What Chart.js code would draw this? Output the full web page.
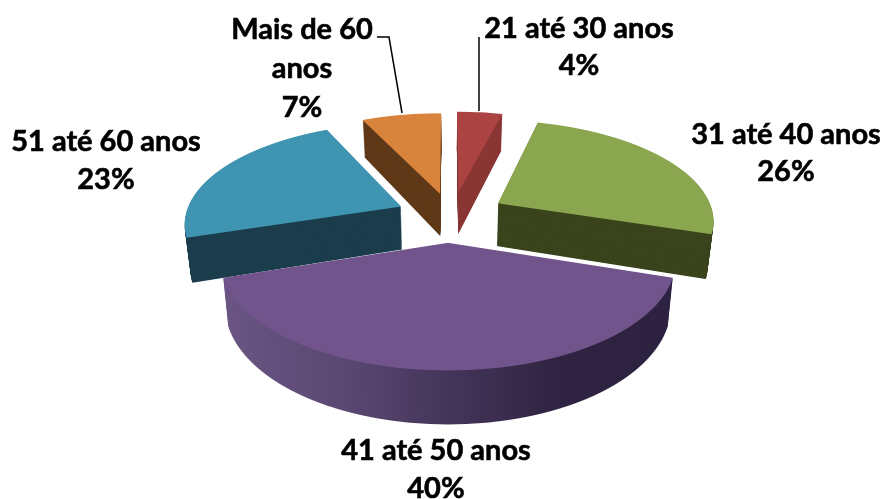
<!DOCTYPE html>
<html lang="pt">
<head>
<meta charset="utf-8">
<title>Faixa etária</title>
<script src="https://cdn.jsdelivr.net/npm/chart.js@4.4.0/dist/chart.umd.js"></script>
<style>
  html, body { margin: 0; padding: 0; background: #fff; }
  canvas { display: block; }
</style>
</head>
<body>
<canvas id="grafico" width="883" height="499"></canvas>
<script>
/* ===============================
   DADOS
=============================== */
const categorias = ["21 até 30 anos", "31 até 40 anos", "41 até 50 anos", "51 até 60 anos", "Mais de 60 anos"];
const percentuais = [4, 26, 40, 23, 7];

/* ===============================
   ESTILO
=============================== */
const coresTopo = ["#aa4341", "#8aa64f", "#71548c", "#3f95b1", "#d9843c"];
const coresLado = ["#8a3634", "#3a441c", null, "#1b3d4c", "#5f3818"];

// quanto cada fatia sai do centro (em raios do disco)
const explosaoU = [0.05, 0.236, 0, -0.22, -0.038];
const explosaoV = [-0.31, -0.19, 0.2, -0.157, -0.29];
const ordemDesenho = [4, 0, 3, 1, 2];

// camera: centro, raios, distancia da perspectiva, altura do disco e afinamento da parede
const cam = { x0: 448, y0: 222, rx: 218, ry: 101, dist: 6.53, altura: 44, afina: 0.0005 };

// rotulos: linhas de texto e centro de cada linha
const rotulos = [
  { linhas: ["21 até 30 anos", "4%"], x: 579, y: [29, 66] },
  { linhas: ["31 até 40 anos", "26%"], x: 786, y: [135, 172] },
  { linhas: ["41 até 50 anos", "40%"], x: 436, y: [451, 489] },
  { linhas: ["51 até 60 anos", "23%"], x: 106, y: [142, 180] },
  { linhas: ["Mais de 60", "anos", "7%"], x: 302, y: [30, 69, 108] },
];
const guias = [
  [[479, 37], [479, 111]],
  [[377, 37], [389, 37], [402, 113]],
];

/* ===============================
   PIZZA 3D EM PERSPECTIVA
=============================== */
// desenha o arco linha a linha, cada linha da tela com a escala da sua profundidade
function desenharCamada(ctx, arco, i, h, cor, yIni, yFim) {
  const R = arco.outerRadius;
  const fantasma = Object.create(arco);
  fantasma.options = Object.assign({}, arco.options, { backgroundColor: cor, borderWidth: 0 });
  const s = 1 - h * cam.afina;

  for (let Y = yIni; Y < yFim; Y++) {
    const y = Y + 0.5 - cam.y0;
    const v = (y - h) / (cam.ry + y / cam.dist);
    const V = v - explosaoV[i];
    if (Math.abs(V) > 1.01) continue;
    const w = s / (1 - v / cam.dist);
    const a = cam.rx * w / R;
    const d = (cam.ry + (cam.ry * v + h) / (cam.dist - v)) / (1 - v / cam.dist) / R;
    const py = arco.y + R * V;

    ctx.save();
    ctx.beginPath();
    ctx.rect(0, Y, 883, 1);
    ctx.clip();
    ctx.setTransform(a, 0, 0, d, cam.x0 + cam.rx * w * explosaoU[i] - a * arco.x, Y + 0.5 - d * py);
    fantasma.draw(ctx);
    ctx.restore();
  }
}

const pizza3d = {
  id: "pizza3d",
  beforeDatasetDraw(chart, args) {
    const ctx = chart.ctx;
    const arcos = chart.getDatasetMeta(args.index).data;

    ordemDesenho.forEach(i => {
      const arco = arcos[i];
      let corLado = coresLado[i];
      if (!corLado) {
        corLado = ctx.createLinearGradient(arco.x - arco.outerRadius, 0, arco.x + arco.outerRadius, 0);
        corLado.addColorStop(0, "#6c5686");
        corLado.addColorStop(0.3, "#5a4872");
        corLado.addColorStop(0.5, "#44355a");
        corLado.addColorStop(0.72, "#2e2340");
        corLado.addColorStop(1, "#2c2140");
      }
      for (let h = cam.altura; h > 0; h--) desenharCamada(ctx, arco, i, h, corLado, 100, 440);
      desenharCamada(ctx, arco, i, 0, coresTopo[i], 100, 440);
    });
    return false;
  },
  afterDraw(chart) {
    const ctx = chart.ctx;
    ctx.save();
    ctx.strokeStyle = "#000";
    ctx.lineWidth = 1.5;
    guias.forEach(g => {
      ctx.beginPath();
      g.forEach((p, n) => (n ? ctx.lineTo(p[0], p[1]) : ctx.moveTo(p[0], p[1])));
      ctx.stroke();
    });
    ctx.fillStyle = "#000";
    ctx.lineWidth = 0.6;
    ctx.font = "bold 29px Lato";
    ctx.textAlign = "center";
    ctx.textBaseline = "middle";
    rotulos.forEach(r => r.linhas.forEach((t, n) => {
      ctx.fillText(t, r.x, r.y[n]);
      ctx.strokeText(t, r.x, r.y[n]); // o original tem traco mais grosso
    }));
    ctx.restore();
  },
};

/* ===============================
   GRAFICO
=============================== */
new Chart(document.getElementById("grafico"), {
  type: "pie",
  data: {
    labels: categorias,
    datasets: [{ data: percentuais, backgroundColor: coresTopo, borderWidth: 0 }],
  },
  options: {
    responsive: false,
    animation: false,
    plugins: { legend: { display: false }, tooltip: { enabled: false } },
  },
  plugins: [pizza3d],
});
</script>
</body>
</html>
